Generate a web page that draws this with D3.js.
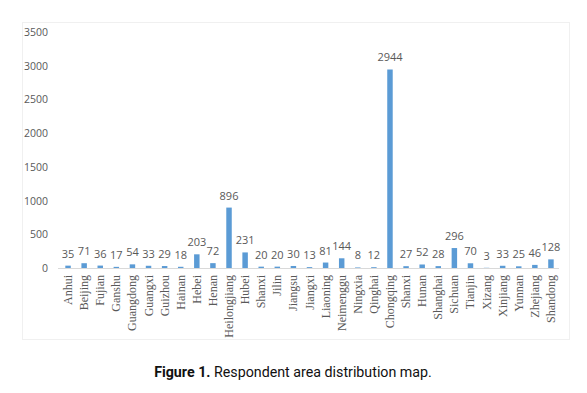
<!DOCTYPE html>
<html>
<head>
<meta charset="utf-8">
<script src="https://cdn.jsdelivr.net/npm/d3@7"></script>
<style>
  body { margin: 0; background: #fff; }
</style>
</head>
<body>
<div id="chart"></div>
<script>
// Chart data
var provinces = ["Anhui", "Beijing", "Fujian", "Ganshu", "Guangdong", "Guangxi", "Guizhou", "Hainan",
    "Hebei", "Henan", "Heilongjiang", "Hubei", "Shanxi", "Jilin", "Jiangsu", "Jiangxi", "Liaoning",
    "Neimenggu", "Ningxia", "Qinghai", "Chongqing", "Shanxi", "Hunan", "Shanghai", "Sichuan",
    "Tianjin", "Xizang", "Xinjiang", "Yunnan", "Zhejiang", "Shandong"];
var respondents = [35, 71, 36, 17, 54, 33, 29, 18, 203, 72, 896, 231, 20, 20, 30, 13, 81,
    144, 8, 12, 2944, 27, 52, 28, 296, 70, 3, 33, 25, 46, 128];
var yTicks = [0, 500, 1000, 1500, 2000, 2500, 3000, 3500];

var width = 587, height = 393;
var textColor = "#595959";
var barColor = "#5b9bd5";

var svg = d3.select("#chart").append("svg")
    .attr("width", width)
    .attr("height", height);

// chart frame
svg.append("rect")
    .attr("x", 22.5).attr("y", 22.5)
    .attr("width", 547).attr("height", 317)
    .attr("fill", "none")
    .attr("stroke", "#f0f0f0");

// Scales
var x = d3.scaleBand()
    .domain(d3.range(provinces.length))
    .range([60, 559])
    .paddingInner(0.66)
    .paddingOuter(0.33);
var y = d3.scaleLinear()
    .domain([0, 3500])
    .range([268, 32]);

// Y axis labels (no line, no gridlines)
svg.append("g").selectAll("text")
    .data(yTicks)
    .enter().append("text")
    .attr("x", 48)
    .attr("y", function(d) { return y(d); })
    .attr("text-anchor", "end")
    .attr("dominant-baseline", "central")
    .style("font-family", "'Open Sans', 'Liberation Sans', sans-serif")
    .style("font-size", "10.5px")
    .style("fill", textColor)
    .text(function(d) { return d; });

// Baseline
svg.append("line")
    .attr("x1", 58).attr("x2", 559)
    .attr("y1", y(0) + 0.5).attr("y2", y(0) + 0.5)
    .attr("stroke", "#d9d9d9");

// Bars
svg.append("g").selectAll("rect")
    .data(respondents)
    .enter().append("rect")
    .attr("x", function(d, i) { return x(i); })
    .attr("y", function(d) { return y(d); })
    .attr("width", x.bandwidth())
    .attr("height", function(d) { return y(0) - y(d); })
    .attr("fill", barColor);

// Value labels
svg.append("g").selectAll("text")
    .data(respondents)
    .enter().append("text")
    .attr("x", function(d, i) { return x(i) + x.bandwidth() / 2; })
    .attr("y", function(d) { return y(d) - 8; })
    .attr("text-anchor", "middle")
    .style("font-family", "'Open Sans', 'Liberation Sans', sans-serif")
    .style("font-size", "11px")
    .style("fill", textColor)
    .text(function(d) { return d; });

// Category labels, rotated
svg.append("g").selectAll("text")
    .data(provinces)
    .enter().append("text")
    .attr("transform", function(d, i) {
        return "translate(" + (x(i) + x.bandwidth() / 2 + 4) + "," + 275 + ") rotate(-90)";
    })
    .attr("text-anchor", "end")
    .style("font-family", "'Liberation Serif', 'DejaVu Serif', serif")
    .style("font-size", "12px")
    .style("fill", textColor)
    .text(function(d) { return d; });

// Caption (condensed look)
var caption = svg.append("text")
    .attr("transform", "translate(293,377) scale(0.92,1)")
    .attr("text-anchor", "middle")
    .style("font-family", "'Roboto', sans-serif")
    .style("font-size", "15.5px")
    .style("fill", "#111");
caption.append("tspan").style("font-weight", "700").text("Figure 1.");
caption.append("tspan").text(" Respondent area distribution map.");
</script>
</body>
</html>
